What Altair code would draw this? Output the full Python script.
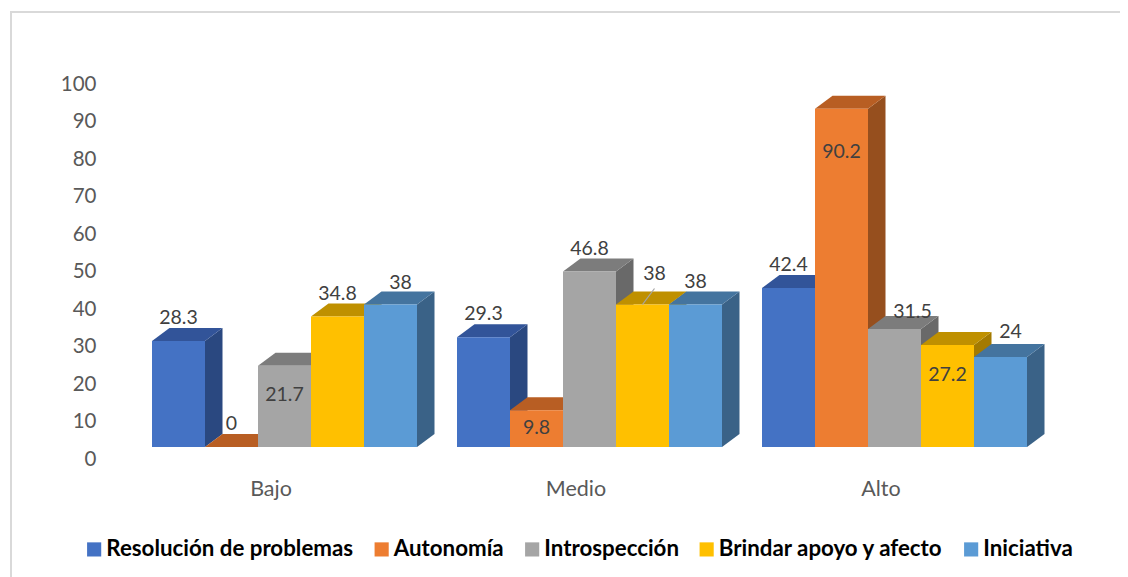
import altair as alt
import pandas as pd

categories = ["Bajo", "Medio", "Alto"]
series = ["Resolución de problemas", "Autonomía", "Introspección", "Brindar apoyo y afecto", "Iniciativa"]
resolucion = [28.3, 29.3, 42.4]
autonomia = [0, 9.8, 90.2]
introspeccion = [21.7, 46.8, 31.5]
brindar = [34.8, 38, 27.2]
iniciativa = [38, 38, 24]
y_ticks = [0, 10, 20, 30, 40, 50, 60, 70, 80, 90, 100]

all_values = [resolucion, autonomia, introspeccion, brindar, iniciativa]

# styles
FRONT = ["#4472C4", "#ED7D31", "#A5A5A5", "#FFC000", "#5B9BD5"]
TOP = ["#325499", "#B85E23", "#7C7C7C", "#BF9000", "#44749F"]
SIDE = ["#2A4880", "#964F1E", "#696969", "#A37A00", "#3A6287"]

# layout: scale factors and depth of the 3D projection
PX_X = 53.0
PX_Y = 3.75
GROUP_START = 1.0
GROUP_STEP = 305 / PX_X
DEPTH_X = 17.5 / PX_X
DEPTH_Y = 13 / PX_Y

# label nudges (pixels) keyed by (category index, series index); default sits above the bar
NUDGE = {
    (0, 2): (0, 29), (0, 4): (10, -22),
    (1, 1): (0, 18), (1, 3): (12, -31),
    (2, 1): (0, 43), (2, 2): (18, -17), (2, 3): (0, 30), (2, 4): (10, -25),
}

FONT = "Lato"
x_scale = alt.Scale(domain=[0, 18], range=[0, 954], nice=False, zero=False)
y_scale = alt.Scale(domain=[0, 100], nice=False)
x_enc = alt.X("x:Q", scale=x_scale, axis=None, title=None)
y_axis = alt.Y(
    "y:Q", scale=y_scale, title=None,
    axis=alt.Axis(values=y_ticks, grid=False, domain=False, ticks=False, labelOffset=12,
                  labelOverlap=False, labelPadding=3, labelFontSize=20.5, labelFont=FONT,
                  labelColor="#595959"),
)


def face(rows, colour):
    frame = pd.DataFrame(rows, columns=["x", "y", "y2"])
    return alt.Chart(frame).mark_area(line=False, opacity=1, color=colour).encode(
        x=x_enc, y=y_axis, y2="y2:Q"
    )


layers, labels, points = [], [], []
for c, cat in enumerate(categories):
    for s, name in enumerate(series):
        v = all_values[s][c]
        L = GROUP_START + c * GROUP_STEP + s
        R = L + 1
        d, h = DEPTH_X, DEPTH_Y
        layers.append(face([(R, 0, v), (R + d, h, v + h)], SIDE[s]))
        layers.append(face([(L, v, v), (L + d, v, v + h), (R, v, v + h), (R + d, v + h, v + h)], TOP[s]))
        layers.append(face([(L, 0, v), (R, 0, v)], FRONT[s]))
        dx, dy = NUDGE.get((c, s), (0, -23))
        labels.append(dict(x=L + 0.5 + dx / PX_X, y=v - dy / PX_Y, text=f"{v:g}"))
        points.append(dict(x=L, y=v, serie=name))

labels = pd.DataFrame(labels)
points = pd.DataFrame(points)

legend_layer = alt.Chart(points).mark_square(size=0).encode(
    x=x_enc,
    y=y_axis,
    fill=alt.Fill(
        "serie:N",
        scale=alt.Scale(domain=series, range=FRONT),
        legend=alt.Legend(
            title=None, orient="none", legendX=-16, legendY=466, columns=5, direction="horizontal",
            symbolType="square", symbolSize=200, symbolOpacity=1, symbolStrokeWidth=0,
            labelFont=FONT, labelFontSize=22.3, labelFontWeight="bold", labelColor="#000000",
            labelOffset=1, columnPadding=16.5, labelLimit=400, padding=0,
        ),
    ),
)

value_text = alt.Chart(labels).mark_text(font=FONT, fontSize=19.5, color="#404040", baseline="middle", align="center").encode(
    x=x_enc, y=y_axis, text="text:N"
)

leader_x = GROUP_START + GROUP_STEP + 3.5
leader = alt.Chart(pd.DataFrame([dict(x=leader_x, x2=leader_x + 12 / PX_X, y=38, y2=38 + 16 / PX_Y)])).mark_rule(
    color="#A6A6A6", strokeWidth=1.2
).encode(x=x_enc, x2="x2:Q", y=y_axis, y2="y2:Q")

cat_text = alt.Chart(pd.DataFrame({
    "x": [GROUP_START + i * GROUP_STEP + 2.5 - 13.5 / PX_X for i in range(3)],
    "text": categories,
})).mark_text(font=FONT, fontSize=21.5, color="#595959", baseline="middle").encode(
    x=x_enc, y=alt.value(418), text="text:N"
)

frame_left = alt.Chart(pd.DataFrame({"a": [0]})).mark_rule(color="#D9D9D9", strokeWidth=2).encode(
    x=alt.value(-88), y=alt.value(-61), y2=alt.value(505)
)
frame_top = alt.Chart(pd.DataFrame({"a": [0]})).mark_rule(color="#D9D9D9", strokeWidth=2).encode(
    x=alt.value(-89), x2=alt.value(1029), y=alt.value(-60)
)

chart = alt.layer(frame_left, frame_top, *layers, leader, value_text, cat_text, legend_layer).properties(
    width=954, height=375,
    autosize=alt.AutoSizeParams(type="none"),
    padding={"left": 91, "top": 64, "right": 67, "bottom": 130},
    background="#FFFFFF",
).configure_view(stroke=None)

chart.save("out.html", embed_options={"renderer": "svg", "actions": False})
